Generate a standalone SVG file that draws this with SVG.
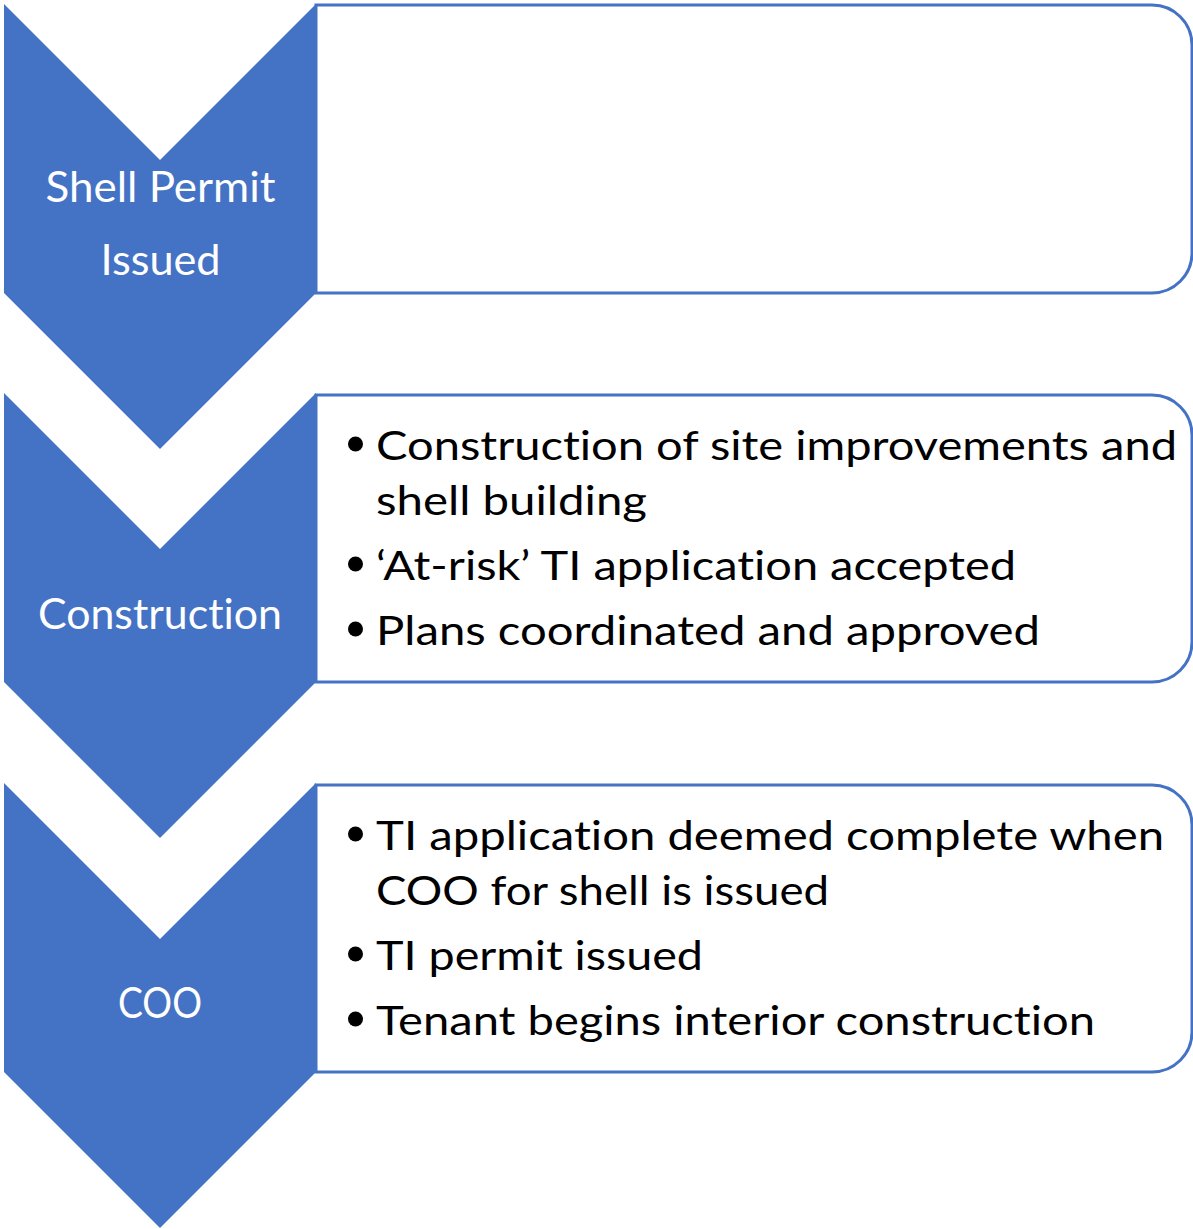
<svg xmlns="http://www.w3.org/2000/svg" width="1193" height="1229" viewBox="0 0 1193 1229">
<style>
.box{fill:#FFFFFF;stroke:#4472C4;stroke-width:3}
.chev{fill:#4472C4}
.lbl{font-family:Lato,"Open Sans","Liberation Sans",sans-serif;font-size:42px;fill:#FFFFFF;text-anchor:middle;font-variant-ligatures:none}
.item{font-family:Lato,"Open Sans","Liberation Sans",sans-serif;font-size:40px;fill:#000000;font-variant-ligatures:none}
.dot{fill:#000000}
</style>
<rect width="1193" height="1229" fill="#FFFFFF"/>
<g id="connectors"></g>
<g id="box1">
<path class="box" d="M316,5 H1152 A40,40 0 0 1 1192,45 V253 A40,40 0 0 1 1152,293 H316 Z"/>
</g>
<g id="box2">
<path class="box" d="M316,395 H1152 A40,40 0 0 1 1192,435 V642 A40,40 0 0 1 1152,682 H316 Z"/>
<circle class="dot" cx="355.5" cy="444" r="7.5"/>
<text class="item" x="376" y="460" textLength="801" lengthAdjust="spacingAndGlyphs">Construction of site improvements and</text>
<text class="item" x="376" y="515" textLength="271" lengthAdjust="spacingAndGlyphs">shell building</text>
<circle class="dot" cx="355.5" cy="564" r="7.5"/>
<text class="item" x="376" y="580" textLength="640" lengthAdjust="spacingAndGlyphs">‘At-risk’ TI application accepted</text>
<circle class="dot" cx="355.5" cy="629" r="7.5"/>
<text class="item" x="376" y="645" textLength="664" lengthAdjust="spacingAndGlyphs">Plans coordinated and approved</text>
</g>
<g id="box3">
<path class="box" d="M316,785 H1152 A40,40 0 0 1 1192,825 V1032 A40,40 0 0 1 1152,1072 H316 Z"/>
<circle class="dot" cx="355.5" cy="834" r="7.5"/>
<text class="item" x="376" y="850" textLength="788" lengthAdjust="spacingAndGlyphs">TI application deemed complete when</text>
<text class="item" x="376" y="905" textLength="453" lengthAdjust="spacingAndGlyphs">COO for shell is issued</text>
<circle class="dot" cx="355.5" cy="954" r="7.5"/>
<text class="item" x="376" y="970" textLength="327" lengthAdjust="spacingAndGlyphs">TI permit issued</text>
<circle class="dot" cx="355.5" cy="1019" r="7.5"/>
<text class="item" x="376" y="1035" textLength="719" lengthAdjust="spacingAndGlyphs">Tenant begins interior construction</text>
</g>
<g id="chevron1">
<polygon class="chev" points="4,4 160,160 316,4 316,293 160,449 4,293"/>
<text class="lbl" x="160.5" y="202" textLength="230" lengthAdjust="spacingAndGlyphs">Shell Permit</text>
<text class="lbl" x="160.5" y="275" textLength="120" lengthAdjust="spacingAndGlyphs">Issued</text>
</g>
<g id="chevron2">
<polygon class="chev" points="4,393 160,549 316,393 316,682 160,838 4,682"/>
<text class="lbl" x="160" y="629" textLength="244" lengthAdjust="spacingAndGlyphs">Construction</text>
</g>
<g id="chevron3">
<polygon class="chev" points="4,783 160,939 316,783 316,1072 160,1228 4,1072"/>
<text class="lbl" x="160" y="1018" textLength="84" lengthAdjust="spacingAndGlyphs">COO</text>
</g>
</svg>
